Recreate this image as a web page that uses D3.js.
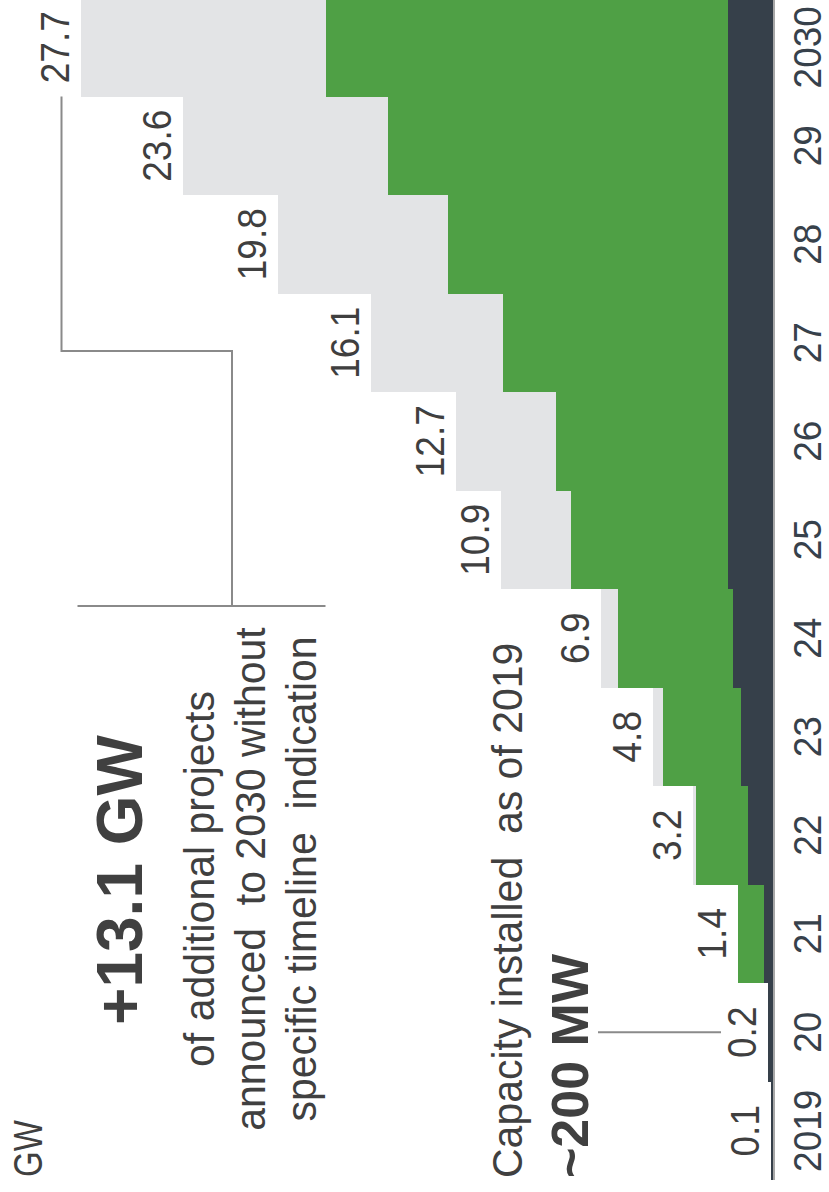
<!DOCTYPE html>
<html>
<head>
<meta charset="utf-8">
<script src="https://cdn.jsdelivr.net/npm/d3@7"></script>
<style>
  body { margin: 0; background: #fff; }
  svg { display: block; font-family: "Liberation Sans", Arial, sans-serif; }
</style>
</head>
<body>
<div id="chart"></div>
<script>
const years = [2019, 2020, 2021, 2022, 2023, 2024, 2025, 2026, 2027, 2028, 2029, 2030]
const yearLabels = ["2019", "20", "21", "22", "23", "24", "25", "26", "27", "28", "29", "2030"]

// GW, cumulative per year
const installed = [0.1, 0.2, 0.35, 1.0, 1.3, 1.6, 1.8, 1.8, 1.8, 1.8, 1.8, 1.8]
const planned = [0.1, 0.2, 1.4, 3.1, 4.4, 6.2, 8.1, 8.7, 10.8, 13.0, 15.4, 17.9]
const announced = [0.1, 0.2, 1.4, 3.2, 4.8, 6.9, 10.9, 12.7, 16.1, 19.8, 23.6, 27.7]

const unitLabel = "GW"
const extraValue = "+13.1 GW"
const extraLines = ["of additional projects", "announced  to 2030 without", "specific timeline  indication"]
const baseNote = "Capacity installed  as of 2019"
const baseValue = "~200 MW"

const colors = {
  installed: "#36404a",
  planned: "#4fa045",
  announced: "#e3e4e6",
  text: "#404040",
  year: "#37414b",
  rule: "#8a8a8a"
}

const width = 829
const height = 1192
const baseX = 773

const svg = d3.select("#chart").append("svg")
  .attr("width", width)
  .attr("height", height)

// chart is drawn rotated: years run bottom -> top, values grow leftwards
const scaleY = d3.scaleBand()
  .domain(years)
  .range([1180, -2])

const scaleX = d3.scaleLinear()
  .domain([0, 30])
  .range([baseX, baseX - 750])

const rows = years.map((y, i) => ({
  year: y,
  label: yearLabels[i],
  installed: installed[i],
  planned: planned[i],
  announced: announced[i]
}))

const bars = svg.append("g").attr("shape-rendering", "crispEdges")

const layers = ["announced", "planned", "installed"]
layers.forEach(key => {
  bars.append("g")
    .selectAll("rect")
    .data(rows)
    .join("rect")
      .attr("x", d => scaleX(d[key]))
      .attr("y", d => scaleY(d.year))
      .attr("width", d => baseX - scaleX(d[key]))
      .attr("height", scaleY.bandwidth())
      .attr("fill", colors[key])
})

svg.append("line")
  .attr("x1", baseX + 1).attr("x2", baseX + 1)
  .attr("y1", scaleY.range()[1]).attr("y2", scaleY.range()[0])
  .attr("stroke", colors.rule)
  .attr("stroke-width", 1.5)

function vtext(parent, x, y, str, opts = {}) {
  const stretch = opts.stretch || 1
  return parent.append("text")
    .attr("transform", `translate(${x},${y}) rotate(-90) scale(1,${stretch})`)
    .attr("text-anchor", opts.anchor || "middle")
    .attr("font-size", opts.size || 37)
    .attr("font-weight", opts.weight || "normal")
    .attr("fill", opts.fill || colors.text)
    .style("white-space", "pre")
    .text(str)
}

const mid = d => scaleY(d.year) + scaleY.bandwidth() / 2

rows.forEach(d => {
  vtext(svg, scaleX(d.announced) - 12, mid(d), d.announced.toFixed(1),
    {size: 37, stretch: 1.1, fill: "#3f3f3f"})
  vtext(svg, 821, mid(d), d.label, {size: 37, stretch: 1.05, fill: colors.year})
})

// annotation for projects without timeline
const last = rows[rows.length - 1]
const bracketY = 606
const stemX = 232
svg.append("path")
  .attr("d", d3.line()([
    [scaleX(last.announced) - 19, scaleY(last.year) + scaleY.bandwidth()],
    [scaleX(last.announced) - 19, 351],
    [stemX, 351],
    [stemX, bracketY]
  ]))
  .attr("fill", "none")
  .attr("stroke", colors.rule)
  .attr("stroke-width", 2)

svg.append("line")
  .attr("x1", scaleX(last.announced) - 3).attr("x2", scaleX(last.planned))
  .attr("y1", bracketY).attr("y2", bracketY)
  .attr("stroke", colors.rule)
  .attr("stroke-width", 2)

vtext(svg, 142, 880, extraValue, {size: 64, weight: "bold"})
extraLines.forEach((line, i) => {
  vtext(svg, 214 + i * 51, 879, line, {size: 41, stretch: 1.05})
})

// installed capacity note
const y2020 = rows[1]
svg.append("line")
  .attr("x1", 598).attr("x2", scaleX(y2020.announced) - 47)
  .attr("y1", mid(y2020)).attr("y2", mid(y2020))
  .attr("stroke", colors.rule)
  .attr("stroke-width", 2)

vtext(svg, 522, 1178, baseNote, {size: 41, anchor: "start", stretch: 1.05})
vtext(svg, 588, 1178, baseValue, {size: 52, weight: "bold", anchor: "start"})

vtext(svg, 42, 1177, unitLabel, {size: 33, anchor: "start", stretch: 1.25})
</script>
</body>
</html>
